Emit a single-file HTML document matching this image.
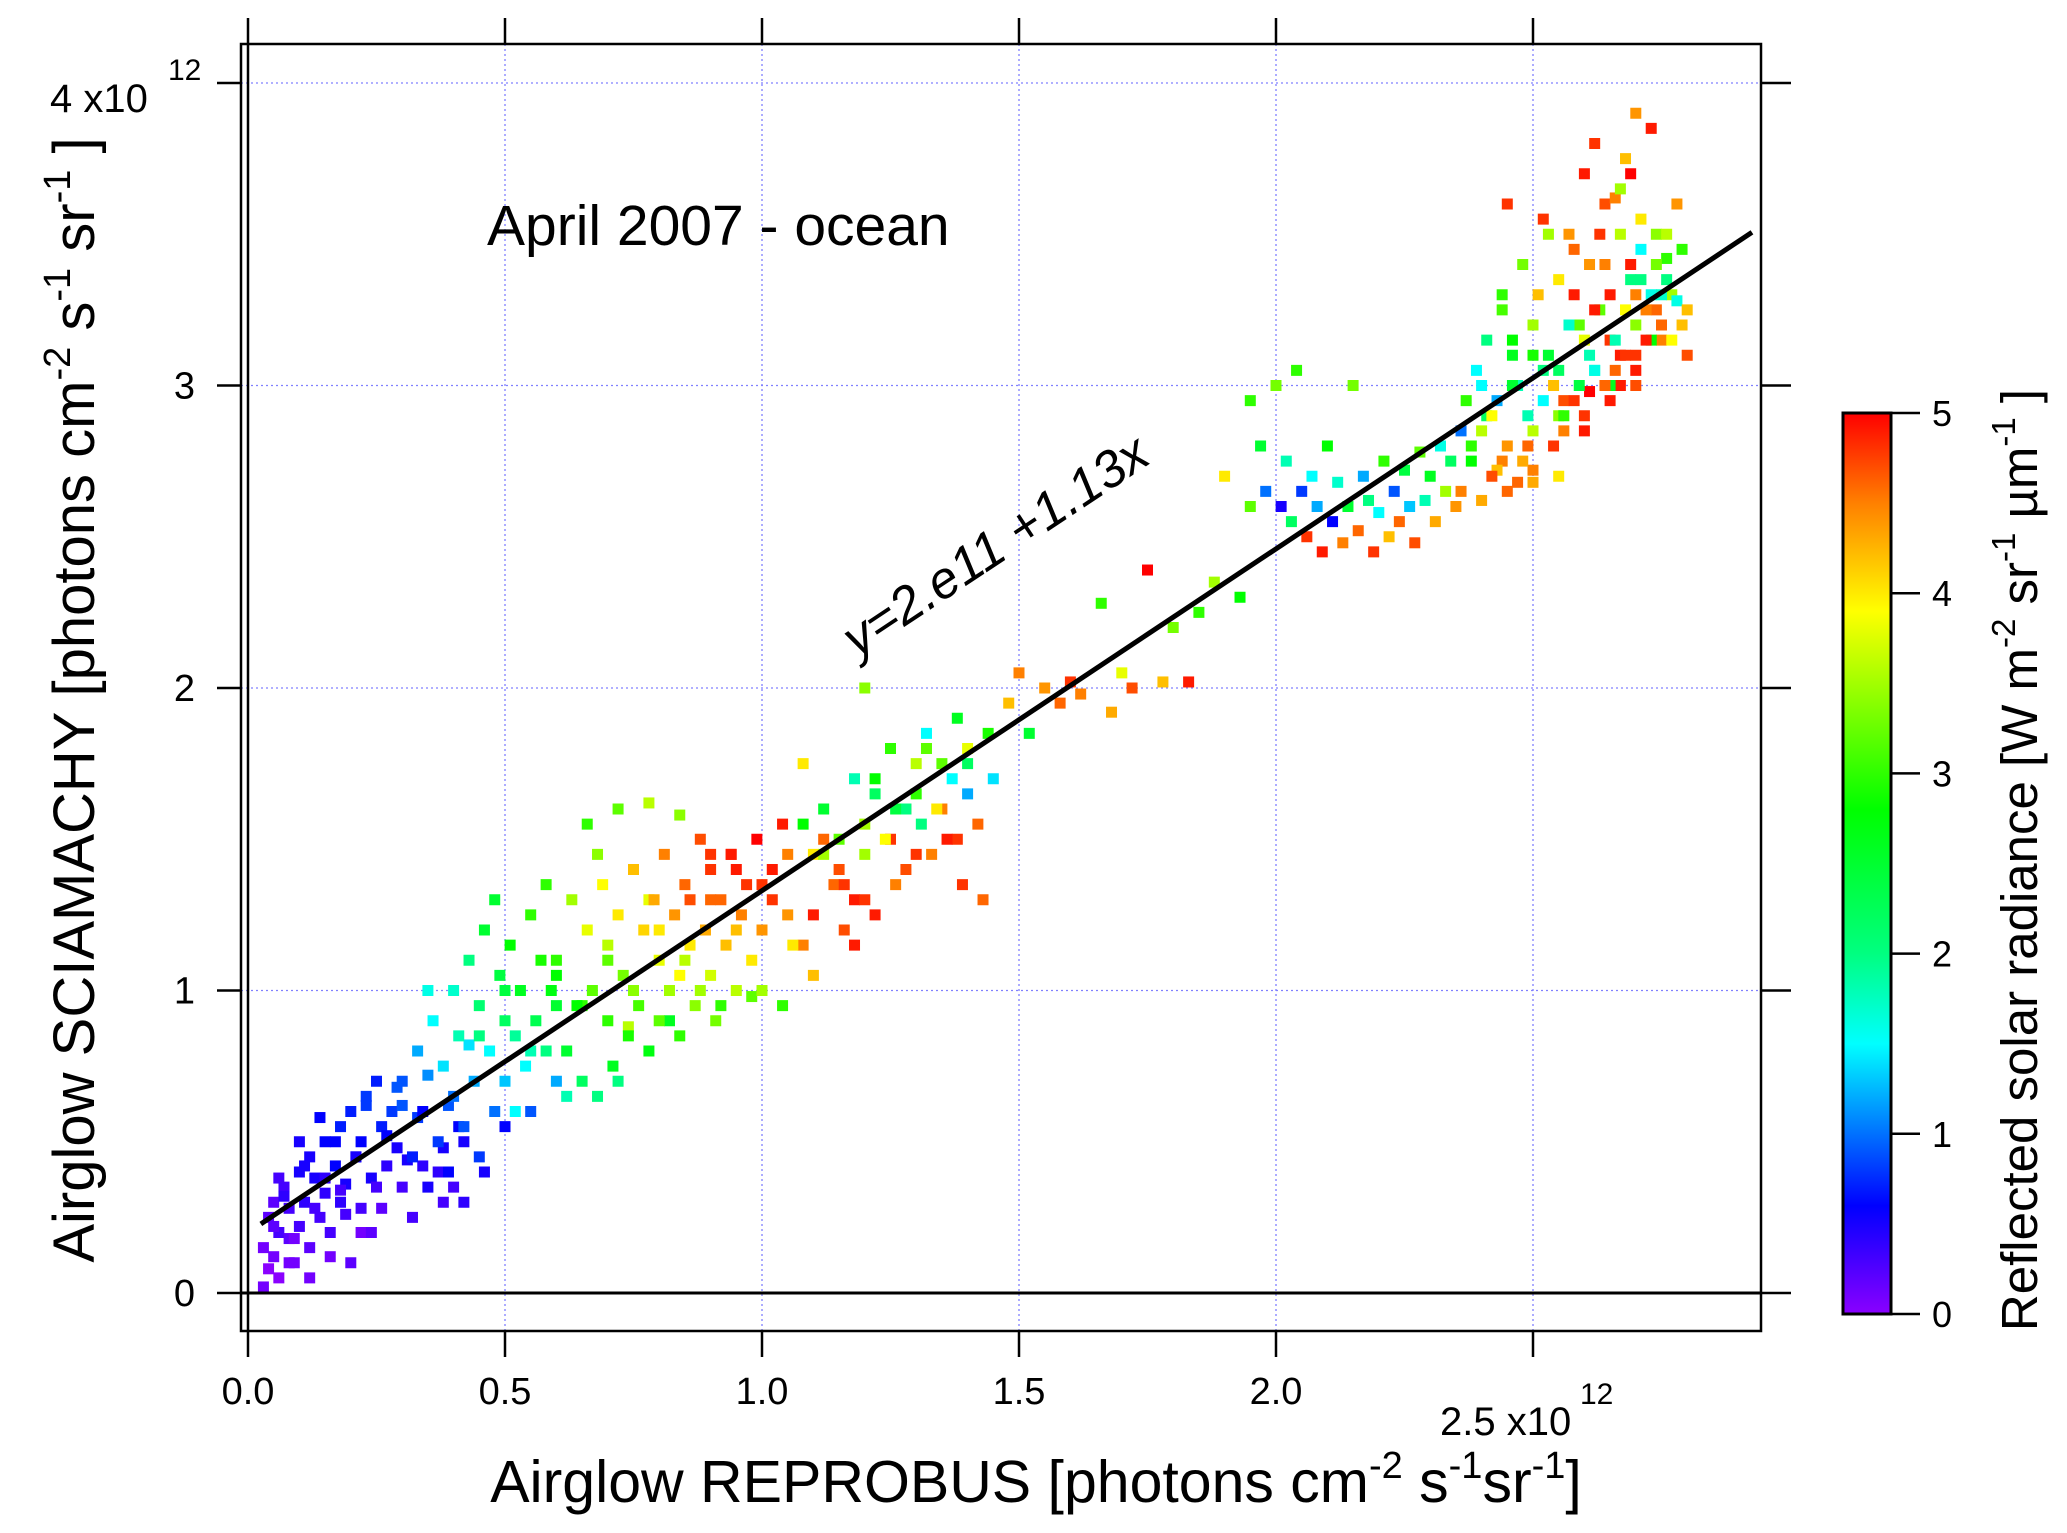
<!DOCTYPE html>
<html><head><meta charset="utf-8"><style>
html,body{margin:0;padding:0;background:#fff;}
svg{display:block;font-family:"Liberation Sans",Arial,sans-serif;}
</style></head><body>
<svg id="chart" width="2067" height="1533" viewBox="0 0 2067 1533" xmlns="http://www.w3.org/2000/svg">
<defs>
<linearGradient id="cmap" x1="0" y1="1" x2="0" y2="0">
<stop offset="0" stop-color="#8a00ff"/>
<stop offset="0.12" stop-color="#0000ff"/>
<stop offset="0.3" stop-color="#00ffff"/>
<stop offset="0.4" stop-color="#00ff80"/>
<stop offset="0.56" stop-color="#00ff00"/>
<stop offset="0.78" stop-color="#ffff00"/>
<stop offset="0.9" stop-color="#ff8000"/>
<stop offset="1" stop-color="#ff0000"/>
</linearGradient>
</defs>
<g id="grid"></g>
<g id="points"></g>
<g id="axes"></g>
<text x="487" y="245" font-size="57">April 2007 - ocean</text>
<text x="0" y="0" font-size="52" font-style="italic" text-anchor="middle" transform="translate(1005,560) rotate(-33.6)">y=2.e11 +1.13x</text>
<text x="1036" y="1502" font-size="59" text-anchor="middle">Airglow REPROBUS [photons cm<tspan dy="-24" font-size="38">-2</tspan><tspan dy="24"> s</tspan><tspan dy="-24" font-size="38">-1</tspan><tspan dy="24">sr</tspan><tspan dy="-24" font-size="38">-1</tspan><tspan dy="24">]</tspan></text>
<text font-size="58" text-anchor="middle" transform="translate(94,700) rotate(-90)">Airglow SCIAMACHY [photons cm<tspan dy="-24" font-size="38">-2</tspan><tspan dy="24"> s</tspan><tspan dy="-24" font-size="38">-1</tspan><tspan dy="24"> sr</tspan><tspan dy="-24" font-size="38">-1</tspan><tspan dy="24"> ]</tspan></text>
<g><text x="50" y="112" font-size="40">4 x10</text><text x="168" y="80" font-size="30">12</text></g>
<g><text x="1440" y="1435" font-size="40">2.5 x10</text><text x="1580" y="1404" font-size="30">12</text></g>
<g id="cbar">
<rect x="1843" y="413" width="48" height="901" fill="url(#cmap)" stroke="#000" stroke-width="3"/>
</g>
<text font-size="51" text-anchor="middle" transform="translate(2037,860) rotate(-90)">Reflected solar radiance [W m<tspan dy="-22" font-size="33">-2</tspan><tspan dy="22"> sr</tspan><tspan dy="-22" font-size="33">-1</tspan><tspan dy="22"> µm</tspan><tspan dy="-22" font-size="33">-1</tspan><tspan dy="22"> ]</tspan></text>
</svg>
<script>
const xTicks=[0,0.5,1.0,1.5,2.0,2.5];
const xTickLabels=["0.0","0.5","1.0","1.5","2.0",""];
const yTicks=[0,1,2,3,4];
const yTickLabels=["0","1","2","3",""];
const cTicks=[0,1,2,3,4,5];
const fitIntercept=0.2, fitSlope=1.13, fitX0=0.025, fitX1=2.926;

const aX=[.03,.03,.04,.04,.05,.05,.06,.06,.07,.08,.08,.09,.1,.1,.11,.12,.12,.13,.14,.15,.15,.16,.17,.18,.18,.19,.2,.21,.22,.22,.23,.24,.25,.26,.27,.28,.29,.3,.12,.2];
const aY=[.02,.15,.25,.08,.3,.12,.2,.05,.35,.18,.28,.1,.4,.22,.3,.15,.45,.38,.25,.5,.33,.2,.42,.55,.3,.36,.6,.45,.28,.5,.65,.38,.7,.55,.42,.6,.48,.62,.05,.1];
const aC=[.1,.1,.2,0,.2,.1,.3,0,.3,.2,.3,.1,.5,.3,.4,.2,.5,.5,.3,.6,.4,.3,.6,.7,.4,.5,.7,.6,.3,.6,.8,.5,.7,.7,.4,.8,.5,.9,.1,.2];
const bX=[.3,.32,.33,.34,.35,.36,.37,.38,.39,.4,.4,.41,.42,.43,.44,.45,.45,.46,.47,.48,.49,.5,.5,.51,.52,.53,.54,.55,.56,.57,.58,.59,.6,.35,.38,.42,.46,.5,.55,.6];
const bY=[.7,.45,.8,.6,.35,.9,.5,.75,.4,1.0,.65,.85,.55,1.1,.7,.95,.45,1.2,.8,.6,1.05,.9,.7,1.15,.85,1.0,.75,1.25,.9,1.1,.8,1.0,.95,1.0,.3,.3,.4,.55,.6,.7];
const bC=[.9,.7,1.2,.6,.5,1.5,.8,1.4,.6,1.7,1.0,1.8,.9,2.0,1.2,2.1,.8,2.5,1.5,1.0,2.4,2.2,1.3,2.8,1.9,2.6,1.5,3.0,2.3,2.9,2.0,2.7,2.5,1.6,.3,.4,.5,.6,.9,1.2];
const cX=[.6,.62,.63,.64,.65,.66,.67,.68,.69,.7,.7,.71,.72,.73,.74,.75,.76,.77,.78,.79,.8,.8,.81,.82,.83,.84,.85,.86,.87,.88,.89,.9,.9,.91,.92,.93,.94,.95,.96,.97,.98,.99,1.0,.66,.72,.78,.84,.9,.95,.86];
const cY=[1.1,.8,1.3,.95,.7,1.2,1.0,.65,1.35,.9,1.15,.75,1.25,1.05,.85,1.4,.95,1.2,.8,1.3,1.1,.9,1.45,1.0,1.25,.85,1.35,1.15,.95,1.5,1.2,1.05,1.4,.9,1.3,1.15,1.45,1.0,1.25,1.35,1.1,1.5,1.2,1.55,1.6,1.62,1.58,1.45,1.4,1.3];
const cC=[3.0,2.5,3.5,2.8,2.2,3.8,3.2,2.0,3.9,3.0,3.6,2.6,4.0,3.3,2.9,4.2,3.1,4.1,2.7,4.3,3.8,3.2,4.5,3.5,4.4,3.0,4.6,4.0,3.4,4.7,4.3,3.7,4.8,3.3,4.6,4.2,4.9,3.6,4.5,4.8,4.0,5.0,4.4,3.0,3.2,3.6,3.4,4.8,4.9,4.7];
const dX=[1.0,1.02,1.04,1.05,1.06,1.08,1.1,1.1,1.12,1.14,1.15,1.16,1.18,1.2,1.2,1.22,1.24,1.25,1.26,1.28,1.3,1.3,1.32,1.34,1.35,1.36,1.38,1.4,1.4,1.42,1.44,1.45,1.08,1.16,1.22,1.28,1.33,1.39,1.12,1.2,1.26,1.31,1.37,1.43,1.18];
const dY=[1.0,1.3,.95,1.45,1.15,1.55,1.25,1.05,1.6,1.35,1.5,1.2,1.7,1.45,1.3,1.65,1.5,1.8,1.35,1.6,1.75,1.45,1.85,1.6,1.75,1.5,1.9,1.65,1.8,1.55,1.85,1.7,1.75,1.35,1.25,1.4,1.45,1.35,1.45,2.0,1.6,1.55,1.7,1.3,1.15];
const dC=[3.5,4.8,3.0,4.5,4.0,2.8,4.9,4.2,2.5,4.6,3.2,4.7,1.8,3.5,4.8,2.2,3.9,3.0,4.5,2.0,3.6,4.8,1.5,4.0,3.2,4.9,2.6,1.2,3.8,4.6,2.9,1.4,4.0,4.8,4.9,4.7,4.5,4.8,3.5,3.4,2.4,2.0,1.5,4.6,4.9];
const eX=[1.48,1.5,1.52,1.55,1.58,1.6,1.62,1.66,1.68,1.7,1.72,1.75,1.78,1.8,1.83,1.85,1.88,1.9,1.93,1.95];
const eY=[1.95,2.05,1.85,2.0,1.95,2.02,1.98,2.28,1.92,2.05,2.0,2.39,2.02,2.2,2.02,2.25,2.35,2.7,2.3,2.6];
const eC=[4.2,4.5,2.5,4.4,4.6,4.8,4.5,3.0,4.3,3.8,4.7,5.0,4.2,3.3,4.9,3.0,3.5,4.0,2.8,3.2];
const fX=[1.95,1.97,1.98,2.0,2.01,2.02,2.03,2.04,2.05,2.06,2.07,2.08,2.09,2.1,2.11,2.12,2.13,2.14,2.15,2.16,2.17,2.18,2.19,2.2,2.21,2.22,2.23,2.24,2.25,2.26,2.27,2.28,2.29,2.3,2.31,2.32,2.33,2.34,2.35,2.36];
const fY=[2.95,2.8,2.65,3.0,2.6,2.75,2.55,3.05,2.65,2.5,2.7,2.6,2.45,2.8,2.55,2.68,2.48,2.6,3.0,2.52,2.7,2.62,2.45,2.58,2.75,2.5,2.65,2.55,2.72,2.6,2.48,2.78,2.62,2.7,2.55,2.8,2.65,2.75,2.6,2.85];
const fC=[3.0,2.5,1.0,3.3,0.5,1.8,2.2,3.0,0.8,4.8,1.5,1.2,4.9,2.8,0.6,1.7,4.5,2.5,3.3,4.6,1.2,2.0,4.8,1.5,3.0,4.2,0.9,4.6,2.4,1.3,4.7,3.2,1.8,2.6,4.3,1.6,3.5,2.2,4.4,1.0];
const gX=[2.36,2.37,2.38,2.39,2.4,2.4,2.41,2.42,2.43,2.44,2.45,2.45,2.46,2.47,2.48,2.49,2.5,2.5,2.51,2.52,2.53,2.54,2.55,2.55,2.56,2.57,2.58,2.59,2.6,2.6,2.61,2.62,2.63,2.64,2.65,2.65,2.66,2.67,2.68,2.69,2.7,2.7,2.71,2.72,2.73,2.74,2.75,2.75,2.76,2.77,2.78,2.79,2.8,2.8,2.42,2.46,2.5,2.54,2.58,2.62,2.66,2.7,2.74,2.78,2.44,2.52,2.6,2.68,2.76,2.48,2.56,2.64,2.72,2.62,2.66,2.7,2.73,2.69,2.71,2.67];
const gY=[2.65,2.95,2.75,3.05,2.85,2.62,3.15,2.7,2.95,3.25,2.8,3.6,3.0,2.68,3.4,2.9,3.1,2.72,3.3,2.95,3.5,2.8,3.05,3.35,2.9,3.2,3.45,3.0,3.15,2.85,3.4,3.05,3.25,3.6,3.0,3.3,3.15,3.5,3.1,3.35,3.2,3.05,3.45,3.25,3.15,3.4,3.3,3.2,3.35,3.15,3.28,3.45,3.25,3.1,2.9,3.1,3.2,3.0,2.95,3.25,3.05,3.3,3.5,3.6,3.3,3.55,3.7,3.75,3.5,2.75,2.85,3.0,3.15,3.8,3.62,3.9,3.85,3.7,3.55,3.65];
const gC=[4.5,3.0,2.8,1.5,3.6,4.3,2.0,4.7,1.2,3.1,4.4,4.8,2.5,4.6,3.3,1.8,2.9,4.5,4.2,1.5,3.5,4.8,2.2,4.0,3.0,1.7,4.6,2.4,3.8,4.9,4.4,1.6,3.2,4.7,2.6,4.9,1.8,3.6,4.8,2.0,3.4,4.9,1.5,4.5,2.8,3.3,1.7,4.6,2.0,3.9,1.6,3.0,4.2,4.7,3.9,2.6,3.5,4.2,4.8,4.9,4.6,4.5,3.4,4.4,3.0,4.8,4.9,4.2,3.6,4.3,4.5,4.6,4.9,4.8,4.5,4.4,4.9,5.0,4.0,3.5];
const hX=[.05,.07,.09,.11,.13,.15,.17,.19,.21,.23,.25,.27,.29,.31,.33,.35,.37,.39,.41,.43,.06,.1,.14,.18,.22,.26,.3,.34,.38,.42,.08,.16,.24,.32,.4];
const hY=[.22,.32,.18,.42,.28,.38,.5,.26,.45,.62,.35,.52,.68,.44,.58,.72,.4,.62,.55,.82,.38,.5,.58,.34,.2,.28,.35,.42,.48,.5,.1,.12,.2,.25,.35];
const hC=[.2,.4,.1,.5,.3,.4,.6,.3,.5,.8,.3,.6,.9,.5,.8,1.1,.4,.9,.6,1.4,.3,.5,.6,.3,.1,.2,.3,.4,.5,.5,.1,.1,.2,.3,.3];
const iX=[.45,.5,.55,.6,.65,.7,.75,.8,.85,.9,.95,1.0,1.05,1.1,1.15,1.2,1.25,1.3,1.35,1.4,.48,.58,.68,.78,.88,.98,1.08,1.18,1.28,1.38,.52,.62,.72,.82,.92,1.02,1.12,1.22,1.32,.74,.84,.94,1.04];
const iY=[.85,1.0,.8,1.05,.95,1.1,1.0,1.2,1.1,1.3,1.2,1.35,1.25,1.45,1.4,1.55,1.5,1.65,1.6,1.75,1.3,1.35,1.45,1.3,1.0,.98,1.15,1.3,1.6,1.5,.6,.65,.7,.9,.95,1.4,1.5,1.7,1.8,.88,1.05,1.45,1.55];
const iC=[2.0,2.4,1.8,2.8,3.0,3.2,3.4,4.0,3.6,4.6,4.2,4.8,4.4,4.0,4.7,3.5,4.8,3.0,4.5,2.2,2.5,3.0,3.4,3.8,3.5,3.2,4.5,4.9,4.6,4.8,1.5,1.8,2.0,2.6,3.0,4.9,4.6,2.8,3.2,3.6,3.9,4.8,4.9];
const jX=[2.38,2.41,2.44,2.47,2.5,2.53,2.56,2.59,2.62,2.65,2.68,2.71,2.74,2.77,2.4,2.43,2.46,2.49,2.52,2.55,2.58,2.61,2.64,2.67,2.7,2.73,2.76,2.79,2.45,2.5,2.55,2.6,2.65,2.7,2.75,2.57,2.63,2.69,2.61,2.67];
const jY=[2.8,2.9,2.75,3.0,2.85,3.1,2.95,3.2,3.05,3.15,3.25,3.35,3.25,3.3,3.0,2.72,3.15,2.8,3.05,2.9,3.3,3.1,3.4,3.0,3.1,3.3,3.42,3.2,2.65,2.68,2.7,2.9,2.95,3.0,3.15,3.5,3.5,3.4,2.98,3.1];
const jC=[3.0,2.2,4.5,1.8,3.6,2.5,4.7,3.2,1.7,4.8,3.9,2.0,4.6,3.5,1.5,4.2,2.8,4.6,2.0,3.4,4.9,1.8,4.5,4.9,4.8,1.6,3.0,4.2,4.6,4.3,4.0,4.8,4.9,4.7,4.5,4.4,4.8,4.9,5.0,4.9];

const NS="http://www.w3.org/2000/svg";
const L=241,R=1761,T=44,B=1331;
function sx(v){return 248+v*514;}
function sy(v){return 1293-v*302.5;}
function scy(v){return 1314-v*(901/5);}
const stops=[[0,[138,0,255]],[0.6,[0,0,255]],[1.5,[0,255,255]],[2,[0,255,128]],[2.8,[0,255,0]],[3.9,[255,255,0]],[4.5,[255,128,0]],[5,[255,0,0]]];
function cmap(c){
  for(let i=0;i<stops.length-1;i++){
    const [a,ca]=stops[i],[b,cb]=stops[i+1];
    if(c<=b){const t=Math.max(0,(c-a)/(b-a));return 'rgb('+ca.map((v,k)=>Math.round(v+(cb[k]-v)*t)).join(',')+')';}
  }
  return 'rgb(255,0,0)';
}
function mk(tag,attrs,parent){const e=document.createElementNS(NS,tag);for(const k in attrs)e.setAttribute(k,attrs[k]);parent.appendChild(e);return e;}
const grid=document.getElementById('grid'),axes=document.getElementById('axes'),pts=document.getElementById('points'),cbar=document.getElementById('cbar');
xTicks.forEach((v,i)=>{
  if(v>0){const g=mk('line',{x1:sx(v),x2:sx(v),y1:T,y2:B,stroke:'#8080ff','stroke-width':1.3,'stroke-dasharray':'2,3'},grid);
  
  }
  const t1=mk('line',{x1:sx(v),x2:sx(v),y1:T,y2:18,stroke:'#000','stroke-width':2.5},axes);
  
  
  const t2=mk('line',{x1:sx(v),x2:sx(v),y1:B,y2:B+26,stroke:'#000','stroke-width':2.5},axes);
  
  
  const lb=mk('text',{x:sx(v),y:1404,'font-size':38,'text-anchor':'middle'},axes);
  lb.textContent=xTickLabels[i];
  
  
});
yTicks.forEach((v,i)=>{
  if(v>0){const g=mk('line',{x1:L,x2:R,y1:sy(v),y2:sy(v),stroke:'#8080ff','stroke-width':1.3,'stroke-dasharray':'2,3'},grid);
  
  }
  const t1=mk('line',{x1:R,x2:R+30,y1:sy(v),y2:sy(v),stroke:'#000','stroke-width':2.5},axes);
  
  
  const t2=mk('line',{x1:L,x2:L-24,y1:sy(v),y2:sy(v),stroke:'#000','stroke-width':2.5},axes);
  
  
  const lb=mk('text',{x:L-46,y:sy(v)+13,'font-size':38,'text-anchor':'end'},axes);
  lb.textContent=yTickLabels[i];
  
  
});
const frame=mk('rect',{x:L,y:T,width:R-L,height:B-T,fill:'none',stroke:'#000','stroke-width':2.5},axes);


const yax=mk('line',{x1:sx(0),x2:sx(0),y1:T,y2:B,stroke:'#000','stroke-width':2.5},axes);


const zl=mk('line',{x1:L,x2:R,y1:sy(0),y2:sy(0),stroke:'#000','stroke-width':3},axes);


const regions=[[aX,aY,aC],[hX,hY,hC],[bX,bY,bC],[iX,iY,iC],[cX,cY,cC],[dX,dY,dC],[eX,eY,eC],[fX,fY,fC],[jX,jY,jC],[gX,gY,gC]];
const S=11;
regions.forEach(([xs,ys,cs])=>{
  const n=Math.min(xs.length,ys.length,cs.length);
  for(let i=0;i<n;i++){
    const r=mk('rect',{x:sx(xs[i])-S/2,y:sy(ys[i])-S/2,width:S,height:S,fill:cmap(cs[i])},pts);
    
    
  }
});
const fit=mk('line',{x1:sx(fitX0),y1:sy(fitIntercept+fitSlope*fitX0),x2:sx(fitX1),y2:sy(fitIntercept+fitSlope*fitX1),stroke:'#000','stroke-width':5},axes);


cTicks.forEach(v=>{
  const t=mk('line',{x1:1891,x2:1920,y1:scy(v),y2:scy(v),stroke:'#000','stroke-width':2.5},cbar);
  
  
  const lb=mk('text',{x:1932,y:scy(v)+13,'font-size':36},cbar);
  lb.textContent=String(v);
  
  
});
</script>
</body></html>
